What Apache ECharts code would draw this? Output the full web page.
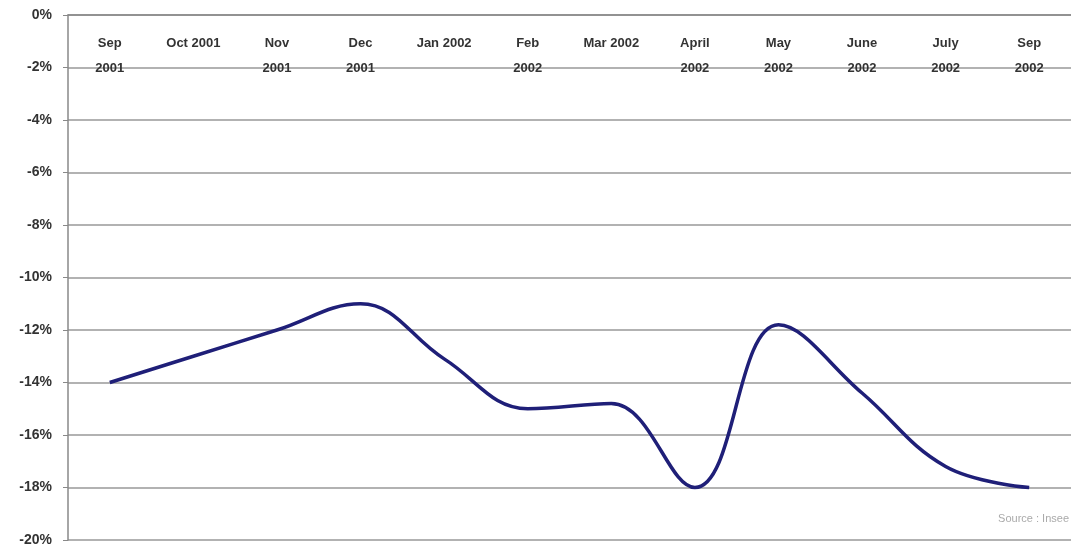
<!DOCTYPE html>
<html>
<head>
<meta charset="utf-8">
<script src="https://cdn.jsdelivr.net/npm/echarts@6/dist/echarts.min.js"></script>
<style>
  html, body { margin: 0; padding: 0; background: #fff; }
  #chart { width: 1071px; height: 549px; }
</style>
</head>
<body>
<div id="chart"></div>
<script>
// categories (label text as printed on the chart)
var months = ['Sep\n2001', 'Oct 2001', 'Nov\n2001', 'Dec\n2001', 'Jan 2002', 'Feb\n2002',
              'Mar 2002', 'April\n2002', 'May\n2002', 'June\n2002', 'July\n2002', 'Sep\n2002'];
// values in %
var values = [-14, -13, -12, -11, -13.1, -15, -14.8, -18, -11.8, -14.4, -17.2, -18];

var chart = echarts.init(document.getElementById('chart'));
var option = {
  animation: false,
  backgroundColor: '#fff',
  textStyle: { fontFamily: 'Liberation Sans, Arial, sans-serif' },
  grid: { left: 68, right: 0, top: 15, bottom: 9 },
  xAxis: {
    type: 'category',
    position: 'top',
    data: months,
    boundaryGap: true,
    axisLine: { lineStyle: { color: '#888', width: 1.5 } },
    axisTick: { inside: true, length: 4, lineStyle: { color: '#888' } },
    axisLabel: {
      inside: true,
      margin: 16,
      verticalAlign: 'top',
      lineHeight: 25,
      color: '#333',
      fontSize: 13,
      fontWeight: 'bold',
      interval: 0
    }
  },
  yAxis: {
    type: 'value',
    min: -20,
    max: 0,
    interval: 2,
    axisLine: { show: true, lineStyle: { color: '#888', width: 1.5 } },
    axisTick: { show: true, length: 5, lineStyle: { color: '#888' } },
    axisLabel: {
      formatter: '{value}%',
      color: '#333',
      fontSize: 14,
      fontWeight: 'bold',
      margin: 16
    },
    splitLine: { lineStyle: { color: '#999', width: 1.5 } }
  },
  graphic: [{
    type: 'text',
    right: 2,
    bottom: 25,
    style: { text: 'Source : Insee', fill: '#aaa', fontSize: 11, fontFamily: 'Liberation Sans, Arial, sans-serif' }
  }],
  series: [{
    type: 'line',
    data: values,
    smooth: 0.4,
    symbol: 'none',
    lineStyle: { color: '#1f1f78', width: 3.5 }
  }]
};
chart.setOption(option);
window.addEventListener('resize', function () { chart.resize(); });
</script>
</body>
</html>
